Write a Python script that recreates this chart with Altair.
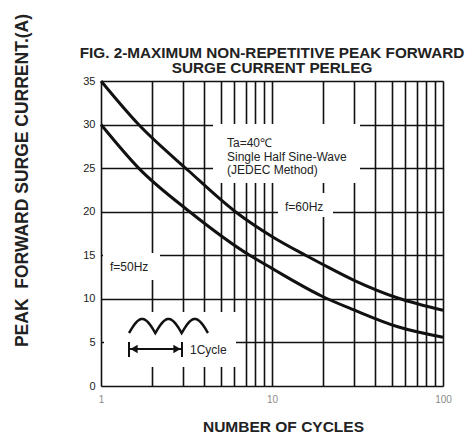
import altair as alt
import pandas as pd
import numpy as np

# ---- data ----
cycles_60 = [1, 1.66, 3.25, 6.11, 10.1, 15.7, 19.6, 30.4, 54.4, 100]
amps_60 = [35, 30, 24.7, 20, 17.1, 15.0, 14.0, 12.1, 10.1, 8.7]
cycles_50 = [1, 1.66, 3.30, 7.40, 10, 11.6, 19.6, 30.4, 54.4, 100]
amps_50 = [30, 25, 20, 15, 13.5, 12.75, 10.3, 8.7, 6.8, 5.6]

x_grid = [1, 2, 3, 4, 5, 6, 7, 8, 9, 10, 20, 30, 40, 50, 60, 70, 80, 90, 100]
y_ticks = [0, 5, 10, 15, 20, 25, 30, 35]

title_lines = ["FIG. 2-MAXIMUM NON-REPETITIVE PEAK FORWARD", "SURGE CURRENT PERLEG"]

# annotation layout (pixels inside the plot area)
box_x0 = [112, 177, 2, 3]
box_x1 = [259, 232, 59, 135]
box_y0 = [43, 112, 172, 231]
box_y1 = [102, 136, 199, 286]

note_text = ["Ta=40\u2103", "Single Half Sine-Wave", "(JEDEC Method)", "f=60Hz", "f=50Hz", "1Cycle"]
note_x = [126, 126, 126, 184, 9, 89]
note_y = [61.5, 76, 89, 126, 186, 269]

W, H = 342, 305
FONT = "Liberation Sans"

curves = pd.concat([
    pd.DataFrame({"cycles": cycles_60, "amps": amps_60, "f": "60Hz"}),
    pd.DataFrame({"cycles": cycles_50, "amps": amps_50, "f": "50Hz"}),
])

main = alt.Chart(curves).mark_line(
    color="#111", strokeWidth=3, interpolate="monotone"
).encode(
    x=alt.X("cycles:Q",
            scale=alt.Scale(type="log", domain=[1, 100], nice=False),
            axis=alt.Axis(values=x_grid, format="d",
                          labelExpr="(datum.value == 1 || datum.value == 10 || datum.value == 100) ? datum.label : ''",
                          grid=True, gridColor="#111", gridWidth=1.6,
                          ticks=False, tickSize=0, domain=False,
                          labelColor="#8a8a8a", labelFontSize=10, labelFont=FONT,
                          labelPadding=8, labelFlush=False,
                          title="NUMBER OF CYCLES", titleFont=FONT,
                          titleFontSize=15.5, titleFontWeight="bold", titleColor="#222",
                          titleX=182, titleY=45, titleAlign="center",
                          titleBaseline="alphabetic")),
    y=alt.Y("amps:Q",
            scale=alt.Scale(domain=[0, 35], nice=False),
            axis=alt.Axis(values=y_ticks, grid=True, gridColor="#111", gridWidth=1.6,
                          ticks=False, tickSize=0, domain=False,
                          labelColor="#222", labelFontSize=11, labelFont=FONT,
                          labelPadding=6,
                          title="PEAK\u00a0 FORWARD SURGE CURRENT.(A)", titleFont=FONT,
                          titleFontSize=17.5, titleFontWeight="bold", titleColor="#222",
                          titleAngle=-90, titleX=-79, titleY=99,
                          titleAlign="center", titleBaseline="middle")),
    detail="f:N",
)

px_scale_x = alt.Scale(domain=[0, W], nice=False, zero=False)
px_scale_y = alt.Scale(domain=[0, H], nice=False, zero=False, reverse=True)

boxes = alt.Chart(pd.DataFrame({"x0": box_x0, "x1": box_x1, "y0": box_y0, "y1": box_y1})).mark_rect(
    color="white"
).encode(
    x=alt.X("x0:Q", scale=px_scale_x, axis=None), x2="x1:Q",
    y=alt.Y("y0:Q", scale=px_scale_y, axis=None), y2="y1:Q",
)

notes = alt.Chart(pd.DataFrame({"t": note_text, "x": note_x, "y": note_y})).mark_text(
    align="left", baseline="middle", font=FONT, fontSize=12, color="#222"
).encode(
    x=alt.X("x:Q", scale=px_scale_x, axis=None),
    y=alt.Y("y:Q", scale=px_scale_y, axis=None),
    text="t:N",
)

title = alt.Chart(pd.DataFrame({"t": title_lines, "x": [171, 171], "y": [-22.7, -7.7]})).mark_text(
    align="center", baseline="alphabetic", font=FONT, fontSize=15.3, fontWeight="bold", color="#222"
).encode(
    x=alt.X("x:Q", scale=px_scale_x, axis=None),
    y=alt.Y("y:Q", scale=px_scale_y, axis=None),
    text="t:N",
)

# rectified sine-wave icon
t = np.linspace(0, 1, 91)
wave_df = pd.DataFrame({"x": 28 + 79 * t, "y": 252 - 14 * np.abs(np.sin(3 * np.pi * t))})
wave = alt.Chart(wave_df).mark_line(color="#111", strokeWidth=2.5).encode(
    x=alt.X("x:Q", scale=px_scale_x, axis=None),
    y=alt.Y("y:Q", scale=px_scale_y, axis=None),
)

rules_df = pd.DataFrame({
    "x0": [28, 28, 81], "x1": [81, 28, 81],
    "y0": [268, 261, 261], "y1": [268, 276, 276],
})
arrow_rules = alt.Chart(rules_df).mark_rule(color="#111", strokeWidth=2).encode(
    x=alt.X("x0:Q", scale=px_scale_x, axis=None), x2="x1:Q",
    y=alt.Y("y0:Q", scale=px_scale_y, axis=None), y2="y1:Q",
)

heads_df = pd.DataFrame({"x": [33, 76], "y": [268, 268], "s": ["triangle-left", "triangle-right"]})
heads = alt.Chart(heads_df).mark_point(filled=True, color="#111", size=70, opacity=1).encode(
    x=alt.X("x:Q", scale=px_scale_x, axis=None),
    y=alt.Y("y:Q", scale=px_scale_y, axis=None),
    shape=alt.Shape("s:N", scale=None, legend=None),
)

chart = alt.layer(main, boxes, notes, title, wave, arrow_rules, heads).resolve_scale(
    x="independent", y="independent"
).properties(
    width=W, height=H,
    autosize=alt.AutoSizeParams(type="none"),
    padding={"left": 93, "top": 73, "right": 25, "bottom": 47},
).configure_view(
    stroke="#111", strokeWidth=2
).configure(background="white")

chart.save("out.html", embed_options={"renderer": "svg", "actions": False})
